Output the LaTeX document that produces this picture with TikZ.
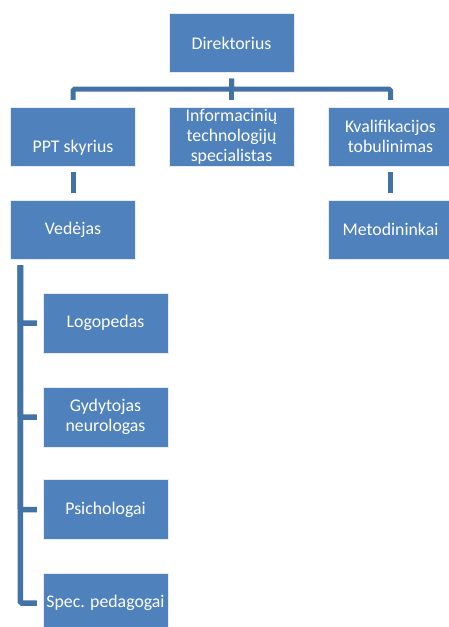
\documentclass[tikz,border=0pt]{standalone}
\usepackage{fontspec}
\setmainfont{Carlito}
\usepackage{tikz}
\usetikzlibrary{positioning,calc}

\definecolor{boxblue}{HTML}{4F81BD}
\definecolor{linkblue}{HTML}{4372A6}

\begin{document}
\begin{tikzpicture}
	[   x=1pt,y=-1pt,
		bnode/.style={draw=white!85!boxblue,line width=0.4pt,fill=boxblue,text=white,
			minimum width=125pt,minimum height=59pt,inner sep=1pt,align=center,
			font=\fontsize{17.8}{20}\selectfont},
	]
	\tikzset{link/.style={draw=linkblue,line width=5pt,rounded corners=1.5pt,
			shorten <=6pt,shorten >=7pt}}
	\useasboundingbox (0,0) rectangle (449,627);
	
	\node[bnode] (dir) at (231.5,43) {Direktorius};
	\node[bnode] (ppt) at (73,136.5) {\strut\\PPT skyrius};
	\node[bnode] (info) at (231.5,136.5) {Informacinių\\technologijų\\specialistas};
	\node[bnode] (kval) at (390.5,136.5) {Kvalifikacijos\\tobulinimas};
	\node[bnode] (ved) at (73,229.5) {Vedėjas};
	\node[bnode] (met) at (390.5,229.5) {Metodininkai};
	
	\foreach \y/\name/\txt in {323/logo/Logopedas,417/gyd/Gydytojas\\neurologas,
		509.5/psi/Psichologai,603/spec/Spec. pedagogai}
	{
		\node[bnode,minimum height=60pt] (\name) at (105.5,\y) {\txt};
		\path[link,line width=5.5pt,shorten <=6pt,shorten >=6pt]
			([xshift=10pt]ved.south west) |- (\name.west);
	}
	
	\path[link] (dir.south) -- ++(0,16.5) -| (ppt.north);
	\path[link] (dir.south) -- (info.north);
	\path[link] (dir.south) -- ++(0,16.5) -| (kval.north);
	\path[link] (ppt.south) -- (ved.north);
	\path[link] (kval.south) -- (met.north);
\end{tikzpicture}
\end{document}
